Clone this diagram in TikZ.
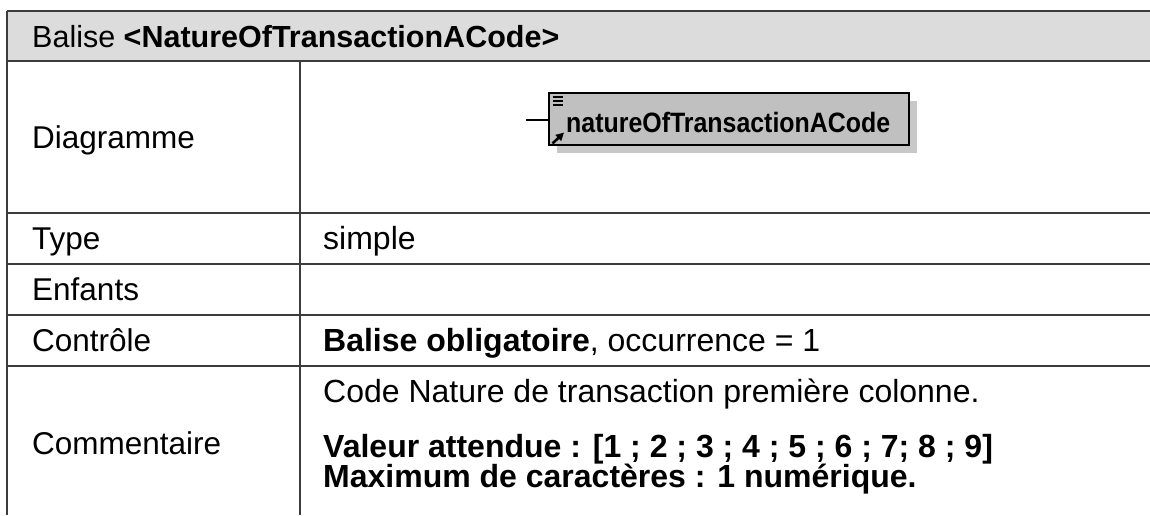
\documentclass[tikz,border=0pt]{standalone}
\usepackage{fontspec}
\setmainfont{Liberation Sans}
\newfontfamily\elemfont[FakeStretch=0.89]{Liberation Sans}
\usetikzlibrary{arrows.meta}
\definecolor{headgray}{RGB}{220,220,220}
\definecolor{rulegray}{RGB}{60,60,60}
\definecolor{boxgray}{RGB}{192,192,192}
\definecolor{shadowgray}{RGB}{200,200,200}
\begin{document}
\begin{tikzpicture}[x=1pt, y=-1pt,
      rule/.style={draw=rulegray, line width=1.1pt},
      cell/.style={anchor=base west, inner sep=0pt, font=\fontsize{31.5pt}{28pt}\selectfont},
      valcell/.style={cell, font=\fontsize{32pt}{28pt}\selectfont},
      boldcell/.style={cell, font=\fontsize{32pt}{28pt}\selectfont\bfseries}]
   \useasboundingbox (0, 0) rectangle (1150, 515);
   \def\L{7}
   \def\D{300}
   \def\R{1150}
   % header row
   \fill[headgray] (\L, 11) rectangle (\R, 61);
   \node[cell, font=\fontsize{30.5pt}{28pt}\selectfont] (head) at (32, 47) {Balise \textbf{<NatureOfTransactionACode>}};
   % grid
   \draw[rule] (\L, 11) -- (\R, 11);
   \foreach \y in {61, 213, 264, 315, 366} {
      \draw[rule] (\L, \y) -- (\R, \y);
   }
   \draw[rule] (\L, 11) -- (\L, 515);
   \draw[rule] (\D, 61) -- (\D, 515);
   % left column
   \node[cell] (diag) at (32, 148) {Diagramme};
   \node[cell] (type) at (32, 249.5) {Type};
   \node[cell] (enf) at (32, 300.5) {Enfants};
   \node[cell] (ctrl) at (32, 351.5) {Contrôle};
   \node[cell] (comm) at (32, 454) {Commentaire};
   % right column
   \node[valcell] (typeval) at (323, 249.5) {simple};
   \node[valcell] (ctrlval) at (323, 351.5) {\textbf{Balise obligatoire}, occurrence = 1};
   \node[valcell] (code) at (323, 402) {Code Nature de transaction première colonne.};
   \node[boldcell] (valeur) at (323, 457) {Valeur attendue : [1 ; 2 ; 3 ; 4 ; 5 ; 6 ; 7; 8 ; 9]};
   \node[boldcell] (maxi) at (323, 487) {Maximum de caractères : 1 numérique.};
   % element diagram
   \begin{scope}
      \fill[shadowgray] (557, 101) rectangle (917, 153);
      \node[draw, line width=1.6pt, fill=boxgray, minimum width=360pt, minimum height=52pt,
         anchor=north west, inner sep=0pt] (elem) at (548, 92) {};
      \node[anchor=base west, inner sep=0pt,
         font=\elemfont\fontsize{28pt}{28pt}\selectfont\bfseries] (elemname) at (566, 132) {natureOfTransactionACode};
      \coordinate (elemin) at (526, 120);
      \draw[line width=1.6pt] (elemin) -- (elemin -| elem.west);
      \foreach \y in {96.5, 100.5, 104.5} {
         \draw[line width=2pt] (552.5, \y) -- (563, \y);
      }
      \draw[line width=2.6pt, -{Triangle[length=8pt, width=8pt]}] (552.5, 143.5) -- (564, 132.5);
   \end{scope}
\end{tikzpicture}
\end{document}
